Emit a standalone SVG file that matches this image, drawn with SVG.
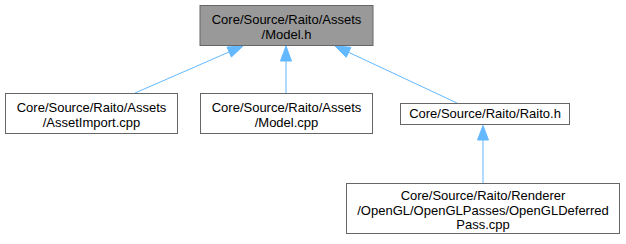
<svg xmlns="http://www.w3.org/2000/svg" width="626" height="244" viewBox="0 0 626 244">
<defs>
<style>
.n{fill:#ffffff;stroke:#666666;stroke-width:1}
.h{fill:#999999;stroke:#666666;stroke-width:1}
.t{font-family:"Liberation Sans",Arial,sans-serif;font-size:13px;fill:#000000;text-anchor:middle}
.e{stroke:#63b8ff;stroke-width:1;fill:none}
.a{fill:#63b8ff;stroke:#63b8ff;stroke-width:1}
</style>
</defs>
<rect width="626" height="244" fill="#ffffff"/>
<g id="edges">
<path class="e" d="M135,93 L229,52"/>
<polygon class="a" points="227,47 243,46 231.4,57"/>
<path class="e" d="M286,93 L286,61"/>
<polygon class="a" points="280.5,61 286,46 291.5,61"/>
<path class="e" d="M457,103 L348.6,52.3"/>
<polygon class="a" points="350.9,47.3 335,46 346.3,57.3"/>
<path class="e" d="M483,183 L483,140"/>
<polygon class="a" points="477.5,140 483,125.5 488.5,140"/>
</g>
<g id="node-model-h">
<rect class="h" x="200" y="5.5" width="173" height="40"/>
<text class="t" x="286.5" y="24">Core/Source/Raito/Assets</text>
<text class="t" x="286.5" y="38.5">/Model.h</text>
</g>
<g id="node-assetimport">
<rect class="n" x="5.5" y="93.5" width="172" height="40"/>
<text class="t" x="91.5" y="112">Core/Source/Raito/Assets</text>
<text class="t" x="91.5" y="126.5">/AssetImport.cpp</text>
</g>
<g id="node-model-cpp">
<rect class="n" x="200.5" y="93.5" width="172" height="40"/>
<text class="t" x="286.5" y="112">Core/Source/Raito/Assets</text>
<text class="t" x="286.5" y="126.5">/Model.cpp</text>
</g>
<g id="node-raito-h">
<rect class="n" x="400.5" y="103.5" width="169" height="21"/>
<text class="t" x="485" y="118">Core/Source/Raito/Raito.h</text>
</g>
<g id="node-deferred">
<rect class="n" x="346.5" y="183.5" width="273" height="50"/>
<text class="t" x="483" y="200">Core/Source/Raito/Renderer</text>
<text class="t" x="483" y="214.5">/OpenGL/OpenGLPasses/OpenGLDeferred</text>
<text class="t" x="483" y="229">Pass.cpp</text>
</g>
</svg>
